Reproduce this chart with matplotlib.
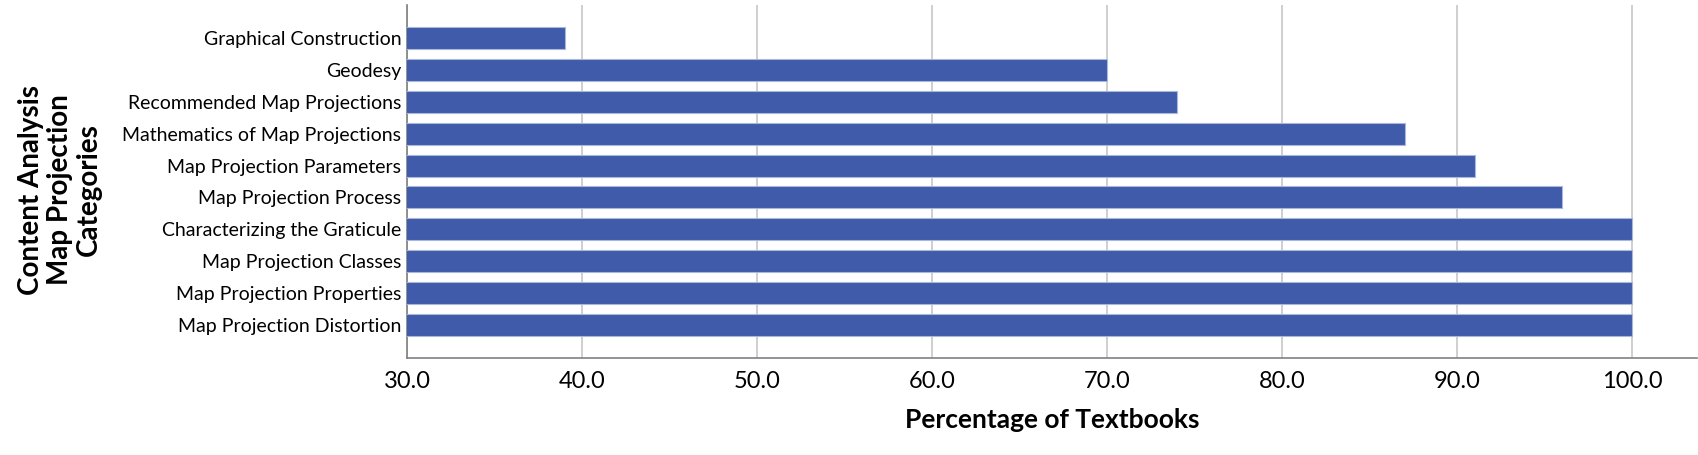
"""Horizontal bar chart of map projection content categories."""

import matplotlib
matplotlib.use("Agg")
import matplotlib.pyplot as plt

categories = [
    "Map Projection Distortion",
    "Map Projection Properties",
    "Map Projection Classes",
    "Characterizing the Graticule",
    "Map Projection Process",
    "Map Projection Parameters",
    "Mathematics of Map Projections",
    "Recommended Map Projections",
    "Geodesy",
    "Graphical Construction",
]
percentages = [100, 100, 100, 100, 96, 91, 87, 74, 70, 39]
x_ticks = [30, 40, 50, 60, 70, 80, 90, 100]

plt.rcParams['font.family'] = ['Lato', 'DejaVu Sans']

fig = plt.figure(figsize=(16.98, 4.55), dpi=100)
ax = fig.add_axes([407 / 1698, 97 / 455, 1290 / 1698, 353 / 455])

positions = list(range(len(categories)))
ax.barh(positions, percentages, height=0.69, left=0,
        color='#3F5BA9', edgecolor='#A9B7DE', linewidth=0.8, zorder=3)

ax.set_xlim(30, 103.7)
ax.set_ylim(-1.03, len(categories) - 1 + 1.03)
ax.set_xticks(x_ticks)
ax.set_xticklabels([f"{t:.1f}" for t in x_ticks], fontsize=17)
ax.set_yticks(positions)
ax.set_yticklabels(categories, fontsize=14)
ax.tick_params(axis='both', length=0)
ax.tick_params(axis='x', pad=9)
ax.tick_params(axis='y', pad=4)

ax.grid(axis='x', color='#CFCFCF', linewidth=1.4, zorder=0)
ax.set_axisbelow(True)
for side in ('top', 'right'):
    ax.spines[side].set_visible(False)
for side in ('left', 'bottom'):
    ax.spines[side].set_color('#808080')
    ax.spines[side].set_linewidth(1.2)

ax.set_xlabel("Percentage of Textbooks", fontsize=19, fontweight='bold',
              labelpad=12)
fig.text(60 / 1698, 1 - 190 / 455,
         "Content Analysis\nMap Projection\nCategories",
         rotation=90, ha='center', va='center', fontsize=20,
         fontweight='bold', linespacing=1.15, multialignment='center')

fig.savefig("out.png", dpi=100)
